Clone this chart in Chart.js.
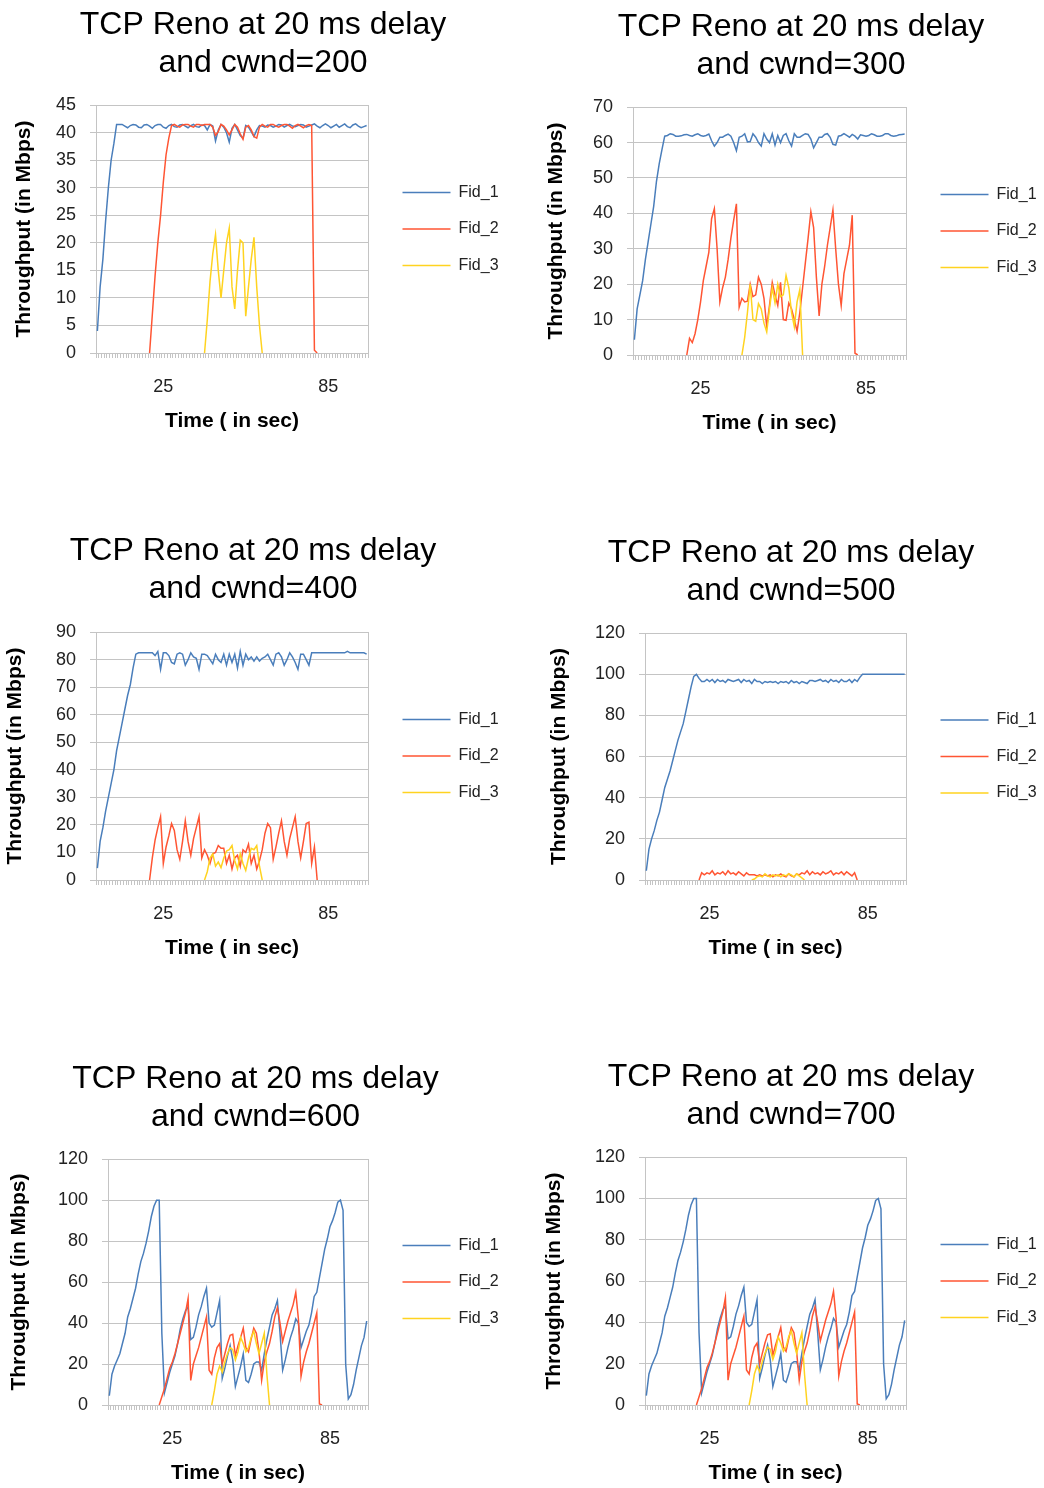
<!DOCTYPE html>
<html>
<head>
<meta charset="utf-8">
<script src="https://cdn.jsdelivr.net/npm/chart.js"></script>
<style>
html, body { margin: 0; padding: 0; background: #fff; width: 1044px; height: 1488px; overflow: hidden; }
canvas { position: absolute; }
</style>
</head>
<body>
<canvas id="c200"></canvas>
<canvas id="c300"></canvas>
<canvas id="c400"></canvas>
<canvas id="c500"></canvas>
<canvas id="c600"></canvas>
<canvas id="c700"></canvas>
<script>
// time axis (seconds), only two of them get a label
var time = ['1','2','3','4','5','6','7','8','9','10','11','12','13','14','15','16','17','18','19','20',
  '21','22','23','24','25','26','27','28','29','30','31','32','33','34','35','36','37','38','39','40',
  '41','42','43','44','45','46','47','48','49','50','51','52','53','54','55','56','57','58','59','60',
  '61','62','63','64','65','66','67','68','69','70','71','72','73','74','75','76','77','78','79','80',
  '81','82','83','84','85','86','87','88','89','90','91','92','93','94','95','96','97','98','99'];
var xTickLabels = ['25', '85'];
var seriesNames = ['Fid_1', 'Fid_2', 'Fid_3'];

// cwnd=200
var fid1_200 = [4, 12, 17, 24, 30, 35, 38, 41.5,
  41.5, 41.5, 41.2, 40.9, 41.3, 41.5, 41.4, 41.0, 40.9, 41.4, 41.5, 41.2, 40.8, 41.3, 41.5, 41.5,
  41.0, 40.8, 41.3, 41.5, 41.1, 41.0, 41.4, 41.5, 41.2, 40.9, 41.3, 41.5, 41.1, 41.0, 41.4, 41.3,
  40.5, 41.5, 41.2, 38.5, 40.5, 41.5, 41.0, 40.0, 38.3, 40.8, 41.5, 40.5, 39.5, 39.0, 41.3, 41.0, 40.2, 39.3, 40.5, 41.3,
  41.2, 41.0, 41.4, 41.3, 41.0, 41.2, 41.5, 41.4, 41.0, 41.3, 41.5, 41.2, 41.1, 41.3, 41.5, 41.4, 41.0, 41.2, 41.4, 41.6,
  41.2, 40.9, 41.3, 41.6, 41.3, 40.9, 41.2, 41.5, 41.0, 41.3, 41.6, 41.1, 40.9, 41.4, 41.6, 41.2, 40.9, 41.1, 41.3];
var fid2_200_from = 20;
var fid2_200 = [0, 7, 14, 20, 25, 31, 36, 39, 41.3,
  41.5, 41.2, 41.0, 41.4, 41.5, 41.5, 41.2, 41.0, 41.5, 41.5, 41.3, 41.5,
  41.5, 41.5, 41.0, 39.5, 40.2, 41.5, 41.2, 40.5, 39.6, 40.5, 41.5, 41.0, 39.8, 38.8, 41.0, 41.3, 40.5, 39.3, 39.0, 41.0,
  41.5, 41.2, 41.0, 41.5, 41.5, 41.2, 41.0, 41.3, 41.5, 41.5, 41.2, 40.8, 41.3, 41.5, 41.2, 40.9, 41.3, 41.5, 41.3,
  0.5, 0];
var fid3_200_from = 40;
var fid3_200 = [0, 6, 13, 18, 21.5, 15, 10, 15, 20, 22.7, 12, 8, 15, 20.5, 20, 6.7, 12, 17, 21, 12, 5, 0];

// cwnd=300
var fid1_300 = [4.3, 13, 17, 21, 27, 32, 37, 42, 49, 54, 58, 61.8,
  62.0, 62.5, 62.3, 61.8, 61.8, 61.9, 62.2, 62.3, 62.0, 61.8, 62.2, 62.5, 62.0, 61.8, 62.0, 62.4,
  60.5, 59.0, 60.0, 61.5, 61.5, 62.0, 62.4, 61.8, 60.0, 57.7, 61.5, 61.8,
  62.5, 60.2, 60.3, 62.5, 61.5, 60.0, 59.0, 62.5, 61.0, 60.0, 62.5, 59.3, 62.0, 60.0, 62.0, 62.5, 60.5, 59.0, 62.5, 61.5,
  61.5, 62.0, 62.5, 62.3, 61.0, 58.5, 60.0, 61.5, 61.5, 62.3, 62.5, 61.5, 59.5, 59.3, 61.8, 62.0,
  62.5, 62.0, 61.5, 62.3, 61.8, 61.0, 62.2, 62.0, 61.8, 62.0, 62.5, 62.2, 61.8, 61.8, 62.0, 62.5, 62.5, 62.0, 61.8, 61.9, 62.2, 62.3, 62.4];
var fid2_300_from = 20;
var fid2_300 = [0, 4.7, 3.5, 6, 10, 15, 21, 25, 29, 38.5, 41.3, 30, 15, 19, 22, 27, 33, 38, 42.7, 13.5,
  16, 15, 15.2, 20, 16.5, 17, 22, 20, 16, 8, 14, 20.5, 17, 14, 20.5, 10, 9.8, 14.7, 13, 10,
  6.7, 12, 19, 26, 33, 40.5, 36, 22, 11, 20, 25, 31, 36, 41, 30, 20, 14, 23, 27, 31,
  39.5, 0.5, 0];
var fid3_300_from = 40;
var fid3_300 = [0, 5, 12, 20, 10, 9.5, 14.5, 13, 9, 6.5, 13, 19, 14.7, 20, 16.5, 17, 22.5, 19, 12, 8, 15, 18.5, 0];

// cwnd=400
var fid1_400 = [4.3, 14, 19, 25, 30, 35, 40, 47, 52, 57, 62, 67, 71, 77, 82, 82.5, 82.5, 82.5, 82.5, 82.5,
  82.5, 81.5, 83, 76.5, 82.5, 82.5, 81.5, 79, 78.5, 82, 82.5, 82, 78, 80, 82.5, 81, 80.5, 76.5, 82, 82,
  81.5, 80, 78.5, 82, 80, 79, 82, 78, 82, 79, 82, 77, 83, 78, 82, 80, 81, 79.5, 81, 79.5,
  80.5, 81, 82, 80, 78, 82, 82.5, 81, 78, 80, 82.5, 81, 79, 76.5, 82, 82, 80, 78, 82.5,
  82.5, 82.5, 82.5, 82.5, 82.5, 82.5, 82.5, 82.5, 82.5, 82.5, 82.5, 82.5, 83,
  82.5, 82.5, 82.5, 82.5, 82.5, 82.5, 82];
var fid2_400_from = 20;
var fid2_400 = [0, 8, 14.5, 19, 23, 6, 12, 16, 20.5, 18, 11, 7.5, 14, 21.5, 14, 9, 15, 19, 23, 8,
  11, 9, 6, 9.5, 10, 12.5, 11.5, 11.5, 6, 9, 4, 8, 9, 5, 11, 10, 13, 6, 9, 4,
  7, 11, 17, 20.5, 19, 7.5, 12, 17, 21.5, 14, 9, 15, 19, 23, 14, 8, 14, 20.5, 21, 6, 12, 0];
var fid3_400_from = 40;
var fid3_400 = [0, 3, 8, 9.5, 5, 6.5, 4.5, 8, 10.5, 11, 12.5, 7, 4, 9.5, 6, 3.5, 8, 11.5, 11, 12.5, 5, 0];

// cwnd=500
var fid1_500 = [4.5, 15, 20, 24, 29, 33, 39, 45, 49, 53, 58, 63, 68, 72, 76, 82, 88, 94, 99, 100,
  98, 96.5, 96.5, 97.5, 96.5, 97.5, 96, 97.5, 96.5, 97, 96, 97.5, 97, 96.5, 97, 97.5, 96, 97.5, 96.5, 97,
  95.5, 97.5, 96.5, 96.5, 95.5, 96.5, 96, 96.5, 96, 96.5, 95.5, 96.5, 96, 96.5, 95.5, 97, 96, 96.5, 95.5, 96.5,
  96, 95.5, 97, 97, 96.5, 97, 97.5, 96.5, 97, 96, 97.5, 96.5, 97, 96, 97.5, 96.5, 96.5, 97.5, 96, 97.5,
  96.5, 98.5, 100, 100, 100, 100, 100, 100, 100, 100, 100, 100, 100, 100, 100, 100, 100, 100, 100];
var fid2_500_from = 21;
var fid2_500 = [0, 3.5, 2.5, 3.5, 3, 4.5, 2.5, 3.5, 3, 4, 2.5, 4.5, 3, 3.5, 2.5, 4, 3, 2, 3.5, 2.5,
  2.5, 2.5, 2, 2.5, 2, 2.5, 2, 2.5, 1.5, 2.5, 2, 3, 2, 1.5, 3, 2, 1.5, 3, 2.5, 3.5,
  3, 4.5, 2.5, 4, 3, 3.5, 2.5, 4, 3, 3.5, 4.5, 2.5, 3.5, 3, 4, 2.5, 4, 3, 2, 3.5, 0];
var fid3_500_from = 41;
var fid3_500 = [0, 0.5, 1.5, 2, 1.5, 3, 2, 1.5, 2.5, 2, 2.5, 1.5, 2.5, 2, 3, 2.5, 1.5, 3, 2, 1, 0];

// cwnd=600 (the cwnd=700 plot shows the same curves)
var fid1_600 = [4.5, 15, 19, 22, 25, 30, 35, 43, 47, 52, 57, 64, 70, 74, 79, 85, 92, 97, 100, 100,
  35, 6, 11, 16, 20, 24, 30, 37, 42, 46, 48, 32, 33, 38, 44, 48, 53, 57, 40, 38,
  39, 45, 51, 13, 18, 24, 29, 22, 9, 14, 19, 25, 12, 11, 15, 20, 21, 21, 17, 25,
  32, 38, 44, 47, 51, 35, 17, 22, 28, 33, 37, 42, 40, 28, 32, 36, 39, 45, 53, 55,
  62, 69, 76, 81, 87, 90, 94, 99, 100, 95, 20, 3, 5, 10, 17, 23, 29, 33, 41];
var fid2_600_from = 20;
var fid2_600 = [0, 4, 8, 13, 18, 21, 25, 30, 35, 40, 45, 52, 12, 20, 24, 28, 33, 38, 43, 17,
  15, 23, 28, 30, 20, 25, 30, 34, 34.5, 24, 29, 33, 37.5, 28, 26, 32, 37.5, 35, 26, 12,
  21, 26, 30, 36, 43, 47.5, 40, 31, 36, 41, 45, 49, 55, 42, 14, 21, 26, 30, 35, 40, 45, 0.5, 0];
var fid3_600_from = 40;
var fid3_600 = [0, 7, 15, 19, 16, 21, 25, 28, 27, 22, 26, 33, 30, 26, 28, 33, 36, 30, 25, 30, 35, 15, 0];

var FONT = "'Liberation Sans', Arial, sans-serif";
var GRID = '#c4c4c4';
var COLORS = ['#4a7ebb', '#ff5533', '#ffd320'];

function pts(from, values) {
  return values.map(function (v, i) { return { x: time[from - 1 + i], y: v }; });
}

function drawChart(id, box, cwnd, yMax, yStep, series) {
  var el = document.getElementById(id);
  el.style.left = box.left + 'px';
  el.style.top = box.top + 'px';
  el.width = box.width;
  el.height = box.height;
  el.style.width = box.width + 'px';
  el.style.height = box.height + 'px';

  new Chart(el, {
    type: 'line',
    data: {
      labels: time,
      datasets: series.map(function (s, k) {
        return {
          label: seriesNames[k],
          data: pts(s[0], s[1]),
          xAxisID: 'x', yAxisID: 'y',
          borderColor: COLORS[k], backgroundColor: COLORS[k],
          borderWidth: 1.5, pointRadius: 0, tension: 0, fill: false,
          order: 3 - k
        };
      })
    },
    options: {
      responsive: false, animation: false, devicePixelRatio: 1,
      layout: { padding: 0 },
      plugins: {
        title: {
          display: true,
          text: ['TCP Reno at 20 ms delay', 'and cwnd=' + cwnd],
          color: '#000',
          font: { family: FONT, size: 32, weight: 'normal', lineHeight: 1.19 },
          padding: { top: box.titleTop, bottom: box.titleBottom }
        },
        legend: {
          position: 'right', fullSize: false, maxWidth: 120,
          labels: {
            boxWidth: 48, boxHeight: 0, padding: 20.5, color: '#222',
            font: { family: FONT, size: 16 },
            sort: function (a, b) { return a.datasetIndex - b.datasetIndex; }
          }
        },
        tooltip: { enabled: false }
      },
      scales: {
        x: {
          type: 'category', offset: true,
          grid: { offset: true, drawOnChartArea: false, tickLength: 5, color: GRID },
          border: { color: GRID },
          ticks: {
            autoSkip: false, maxRotation: 0, minRotation: 0, padding: 18,
            color: '#222', font: { family: FONT, size: 18 },
            callback: function (v) {
              var l = this.getLabelForValue(v);
              return xTickLabels.indexOf(l) >= 0 ? l : '';
            }
          },
          title: {
            display: true, text: 'Time ( in sec)', color: '#000',
            font: { family: FONT, size: 21, weight: 'bold' },
            padding: { top: 0, bottom: 9 }
          },
          afterFit: function (s) { s.height = 90; }
        },
        y: {
          min: 0, max: yMax,
          ticks: { stepSize: yStep, padding: 14, color: '#222', font: { family: FONT, size: 18 } },
          grid: { color: GRID, tickLength: 6 },
          border: { color: GRID },
          title: {
            display: true, text: 'Throughput (in Mbps)', color: '#000',
            font: { family: FONT, size: 21, weight: 'bold' },
            padding: { top: box.yTitle, bottom: 0 }
          },
          afterFit: function (s) { s.width = box.yWidth; }
        },
        // right frame line of the plot and the gap before the legend
        edge: {
          type: 'linear', position: 'right',
          ticks: { display: false }, grid: { display: false, drawTicks: false },
          border: { display: true, color: GRID },
          afterFit: function (s) { s.width = 14; }
        },
        // empty room right of the legend, keeps the title centred like the original
        pad: {
          type: 'linear', position: 'right', weight: 2000,
          ticks: { display: false }, grid: { display: false, drawTicks: false },
          border: { display: false },
          afterFit: function (s) { s.width = box.padRight; }
        }
      }
    }
  });
}

drawChart('c200', { left: 0, top: 0, width: 526, height: 443, titleTop: 6, titleBottom: 23, yWidth: 96, yTitle: 12, padRight: 24 },
  200, 45, 5, [[1, fid1_200], [fid2_200_from, fid2_200], [fid3_200_from, fid3_200]]);
drawChart('c300', { left: 522, top: 0, width: 558, height: 445, titleTop: 8, titleBottom: 23, yWidth: 111, yTitle: 22, padRight: 40 },
  300, 70, 10, [[1, fid1_300], [fid2_300_from, fid2_300], [fid3_300_from, fid3_300]]);
drawChart('c400', { left: 0, top: 526, width: 506, height: 444, titleTop: 6, titleBottom: 24, yWidth: 96, yTitle: 3, padRight: 4 },
  400, 90, 10, [[1, fid1_400], [fid2_400_from, fid2_400], [fid3_400_from, fid3_400]]);
drawChart('c500', { left: 522, top: 526, width: 538, height: 444, titleTop: 8, titleBottom: 23, yWidth: 123, yTitle: 25, padRight: 20 },
  500, 120, 20, [[1, fid1_500], [fid2_500_from, fid2_500], [fid3_500_from, fid3_500]]);
drawChart('c600', { left: 0, top: 1052, width: 511, height: 443, titleTop: 8, titleBottom: 23, yWidth: 108, yTitle: 7, padRight: 9 },
  600, 120, 20, [[1, fid1_600], [fid2_600_from, fid2_600], [fid3_600_from, fid3_600]]);
drawChart('c700', { left: 522, top: 1050, width: 538, height: 445, titleTop: 8, titleBottom: 23, yWidth: 123, yTitle: 20, padRight: 20 },
  700, 120, 20, [[1, fid1_600], [fid2_600_from, fid2_600], [fid3_600_from, fid3_600]]);
</script>
</body>
</html>
